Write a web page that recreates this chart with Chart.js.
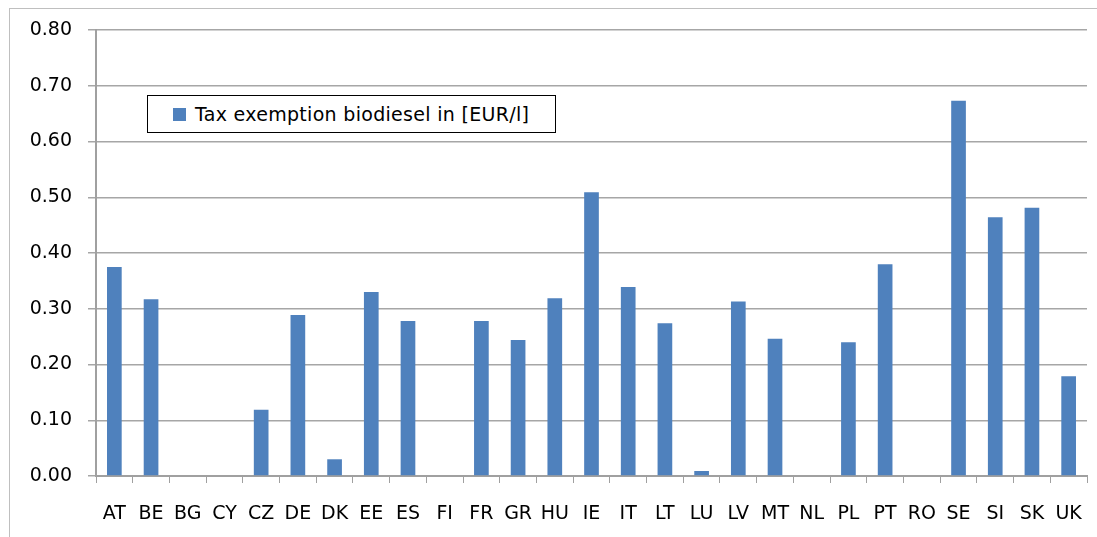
<!DOCTYPE html>
<html>
<head>
<meta charset="utf-8">
<script src="https://cdn.jsdelivr.net/npm/chart.js@4/dist/chart.umd.min.js"></script>
<style>
  html, body { margin: 0; padding: 0; background: #fff; overflow: hidden; }
  #wrap { position: relative; width: 1097px; height: 537px; }
  #frame { position: absolute; left: 9px; top: 8px; width: 1100px; height: 540px; border: 1px solid #bfbfbf; pointer-events: none; }
  #legend {
    position: absolute; left: 147px; top: 95px; width: 407px; height: 36px;
    border: 1px solid #000; background: #fff;
    font-family: "DejaVu Sans", sans-serif; font-size: 19px; letter-spacing: 0.3px; color: #000;
    display: flex; align-items: center; box-sizing: content-box;
  }
  #legend .swatch { width: 13px; height: 13px; background: #4F81BD; margin-left: 25px; margin-right: 9px; }
</style>
</head>
<body>
<div id="wrap">
  <canvas id="chart" width="1097" height="537"></canvas>
  <div id="frame"></div>
  <div id="legend"><span class="swatch"></span><span id="legendText"></span></div>
</div>
<script>
// Countries
const countries = ['AT', 'BE', 'BG', 'CY', 'CZ', 'DE', 'DK', 'EE', 'ES', 'FI', 'FR', 'GR', 'HU',
  'IE', 'IT', 'LT', 'LU', 'LV', 'MT', 'NL', 'PL', 'PT', 'RO', 'SE', 'SI', 'SK', 'UK'];

// Tax exemption biodiesel in EUR per litre
const taxExemption = [0.375, 0.317, 0, 0, 0.119, 0.289, 0.030, 0.330, 0.278, 0, 0.278, 0.244, 0.319,
  0.509, 0.339, 0.274, 0.009, 0.313, 0.246, 0, 0.240, 0.380, 0, 0.673, 0.464, 0.481, 0.179];

const seriesName = 'Tax exemption biodiesel in [EUR/l]';
const yTicks = [0, 0.1, 0.2, 0.3, 0.4, 0.5, 0.6, 0.7, 0.8];

document.getElementById('legendText').textContent = seriesName;

const font = { family: '"DejaVu Sans", sans-serif', size: 19 };

new Chart(document.getElementById('chart').getContext('2d'), {
  type: 'bar',
  data: {
    labels: countries,
    datasets: [{
      label: seriesName,
      data: taxExemption,
      backgroundColor: '#4F81BD',
      borderWidth: 0,
      barPercentage: 0.4,
      categoryPercentage: 1
    }]
  },
  options: {
    responsive: false,
    animation: false,
    layout: { padding: { left: 0, top: 30, right: 10, bottom: 0 } },
    plugins: {
      legend: { display: false },
      tooltip: { enabled: false }
    },
    scales: {
      x: {
        offset: true,
        grid: { offset: true, drawOnChartArea: false, color: '#a0a0a0', tickLength: 7, lineWidth: 1 },
        border: { color: '#a0a0a0', width: 2 },
        ticks: { color: '#000', font: font, padding: 20, maxRotation: 0, autoSkip: false },
        afterFit: function(scale) {
          scale.height = 61;
          // the tick padding is meant to be vertical only; drop the side padding it adds
          scale.paddingLeft = 0;
          scale.paddingRight = 0;
        }
      },
      y: {
        min: 0,
        max: 0.8,
        afterBuildTicks: function(scale) { scale.ticks = yTicks.map(v => ({ value: v })); },
        grid: { color: '#a6a6a6', lineWidth: 1.5, tickLength: 8 },
        border: { color: '#a0a0a0', width: 2 },
        ticks: {
          color: '#000', font: font, padding: 16,
          callback: function(v) { return Number(v).toFixed(2); }
        },
        afterFit: function(scale) { scale.width = 96; }
      }
    }
  }
});
</script>
</body>
</html>
